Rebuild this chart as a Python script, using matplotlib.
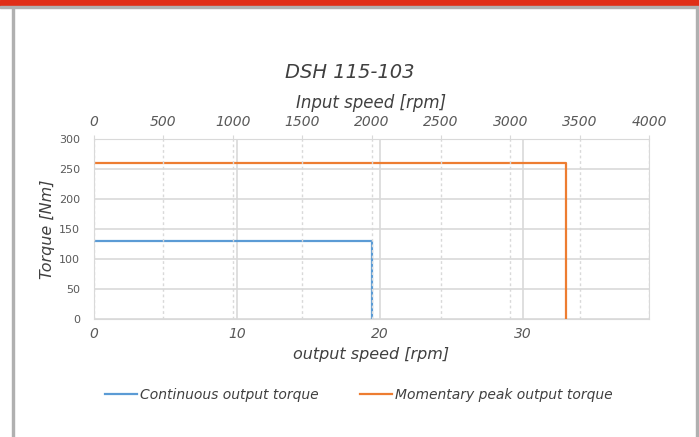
import matplotlib.pyplot as plt
from matplotlib.patches import Rectangle
from matplotlib.lines import Line2D

# data
gear_ratio = 103
input_max = 4000
cont_speed = [0, 2000 / gear_ratio, 2000 / gear_ratio]
cont_torque = [130, 130, 0]
peak_speed = [0, 3400 / gear_ratio, 3400 / gear_ratio]
peak_torque = [260, 260, 0]
y_ticks = [0, 50, 100, 150, 200, 250, 300]
out_ticks = [0, 10, 20, 30]
in_ticks = [0, 500, 1000, 1500, 2000, 2500, 3000, 3500, 4000]

blue = "#5B9BD5"
orange = "#ED7D31"
grid_c = "#d9d9d9"
txt = "#404040"
tick_c = "#595959"

plt.rcParams['font.family'] = 'DejaVu Sans'

fig = plt.figure(figsize=(6.99, 4.37), dpi=100)

# page frame: red bar, gray borders
W, H = 699, 437
fig.patches.append(Rectangle((0, 1 - 6 / H), 1, 6 / H, transform=fig.transFigure,
                             color="#e02e17", zorder=0))
fig.patches.append(Rectangle((0, 1 - 8 / H), 1, 2 / H, transform=fig.transFigure,
                             color="#b0b0b0", zorder=0))
fig.patches.append(Rectangle((12 / W, 0), 2 / W, 1 - 8 / H, transform=fig.transFigure,
                             color="#b0b0b0", zorder=0))
fig.patches.append(Rectangle((696 / W, 0), 2 / W, 1 - 8 / H, transform=fig.transFigure,
                             color="#b0b0b0", zorder=0))

ax = fig.add_axes([94 / W, 1 - 319 / H, (649 - 94) / W, (319 - 139) / H])
ax.set_xlim(0, input_max / gear_ratio)
ax.set_ylim(0, 300)
ax.set_yticks(y_ticks)
ax.set_xticks(out_ticks)
ax.grid(True, color=grid_c, linewidth=1.2)
ax.tick_params(axis='x', length=0, labelsize=10, colors=tick_c, pad=6)
ax.tick_params(axis='y', length=0, labelsize=8, colors=tick_c, pad=10)
for lab in ax.get_xticklabels():
    lab.set_style('italic')
for s in ax.spines.values():
    s.set_color(grid_c)

ax.plot(cont_speed, cont_torque, color=blue, lw=1.6, zorder=3)
ax.plot(peak_speed, peak_torque, color=orange, lw=1.6, zorder=3)

ax.set_xlabel("output speed [rpm]", fontsize=11.5, style='italic', color=txt, labelpad=4)
ax.set_ylabel("Torque [Nm]", fontsize=11.5, style='italic', color=txt)
ax.yaxis.set_label_coords(-0.07, 0.5)

ax2 = ax.twiny()
ax2.set_xlim(0, input_max)
ax2.set_xticks(in_ticks)
ax2.tick_params(length=3, color=grid_c, labelsize=10, colors=tick_c, pad=4)
for lab in ax2.get_xticklabels():
    lab.set_style('italic')
ax2.grid(True, axis='x', color=grid_c, linestyle=(0, (2, 2)), linewidth=1)
for s in ax2.spines.values():
    s.set_visible(False)
ax2.set_xlabel("Input speed [rpm]", fontsize=12, style='italic', color=txt, labelpad=5)

fig.text(0.5, 1 - 72 / H, "DSH 115-103", ha='center', va='center',
         fontsize=14, style='italic', color=txt)

handles = [Line2D([], [], color=blue, lw=1.6), Line2D([], [], color=orange, lw=1.6)]
fig.legend(handles, ["Continuous output torque", "Momentary peak output torque"],
           loc='center', bbox_to_anchor=(0.513, 1 - 395 / H), ncol=2, frameon=False,
           prop={'size': 10, 'style': 'italic'}, labelcolor=txt, columnspacing=3,
           handlelength=2.3, handletextpad=0.2)

fig.savefig("out.png", dpi=100)
